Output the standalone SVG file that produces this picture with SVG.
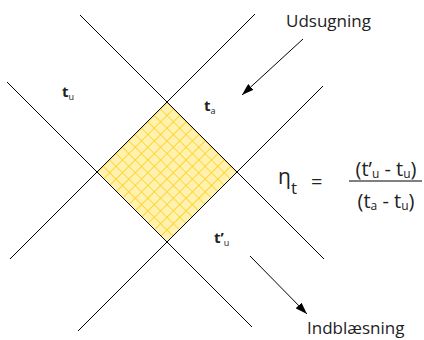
<svg xmlns="http://www.w3.org/2000/svg" width="424" height="340" viewBox="0 0 424 340">
  <style>
    text { font-family: "Open Sans", "DejaVu Sans", sans-serif; fill: #222; }
    .ln { stroke: #000; stroke-width: 1; fill: none; }
    .lbl { font-size: 15px; font-weight: bold; }
    .sub { font-size: 9px; font-weight: normal; }
    .big { font-size: 17px; }
    .frm { font-size: 20px; }
    .fsub { font-size: 12px; }
  </style>
  <defs>
    <pattern id="hatch" width="9" height="9" patternUnits="userSpaceOnUse" patternTransform="translate(167 102) rotate(45)">
      <rect width="9" height="9" fill="#FFF1B0"/>
      <path d="M0 0 H9 M0 0 V9" stroke="#FFD21A" stroke-width="1.7"/>
    </pattern>
    <marker id="ah" viewBox="0 0 12 8" refX="12" refY="4" markerWidth="12" markerHeight="8" markerUnits="userSpaceOnUse" orient="auto">
      <path d="M0 0 L12 4 L0 8 Z" fill="#000"/>
    </marker>
  </defs>

  <g id="zone">
    <polygon points="167,102 237,172 167,242 97,172" fill="url(#hatch)"/>
  </g>

  <g id="connectors">
    <line class="ln" x1="80" y1="15" x2="324" y2="259"/>
    <line class="ln" x1="255" y1="14" x2="10" y2="259"/>
    <line class="ln" x1="7" y1="82" x2="252" y2="327"/>
    <line class="ln" x1="323" y1="86" x2="78" y2="331"/>
    <line class="ln" x1="303" y1="39" x2="242" y2="95" marker-end="url(#ah)"/>
    <line class="ln" x1="250" y1="256" x2="307" y2="314" marker-end="url(#ah)"/>
  </g>

  <g id="label-tu">
    <text x="62" y="97" class="lbl">t<tspan class="sub" dy="3">u</tspan></text>
  </g>
  <g id="label-ta">
    <text x="204" y="111" class="lbl">t<tspan class="sub" dy="3">a</tspan></text>
  </g>
  <g id="label-tpu">
    <text x="214" y="242.5" class="lbl">t’<tspan class="sub" dy="3.5">u</tspan></text>
  </g>
  <g id="udsugning">
    <text x="286" y="27" class="big">Udsugning</text>
  </g>
  <g id="indblaesning">
    <text x="307" y="334" class="big">Indblæsning</text>
  </g>
  <g id="formula">
    <text x="278" y="184" font-size="21">η<tspan font-size="17" dy="10">t</tspan></text>
    <text x="311" y="189" class="frm">=</text>
    <text x="386" y="176" class="frm" text-anchor="middle" xml:space="preserve">(t’<tspan class="fsub" dy="2">u</tspan><tspan dy="-2"> - t</tspan><tspan class="fsub" dy="2">u</tspan><tspan dy="-2">)</tspan></text>
    <line x1="349" y1="181" x2="422" y2="181" stroke="#000" stroke-width="1"/>
    <text x="386" y="208" class="frm" text-anchor="middle" xml:space="preserve">(t<tspan class="fsub" dy="2">a</tspan><tspan dy="-2"> - t</tspan><tspan class="fsub" dy="2">u</tspan><tspan dy="-2">)</tspan></text>
  </g>
</svg>
